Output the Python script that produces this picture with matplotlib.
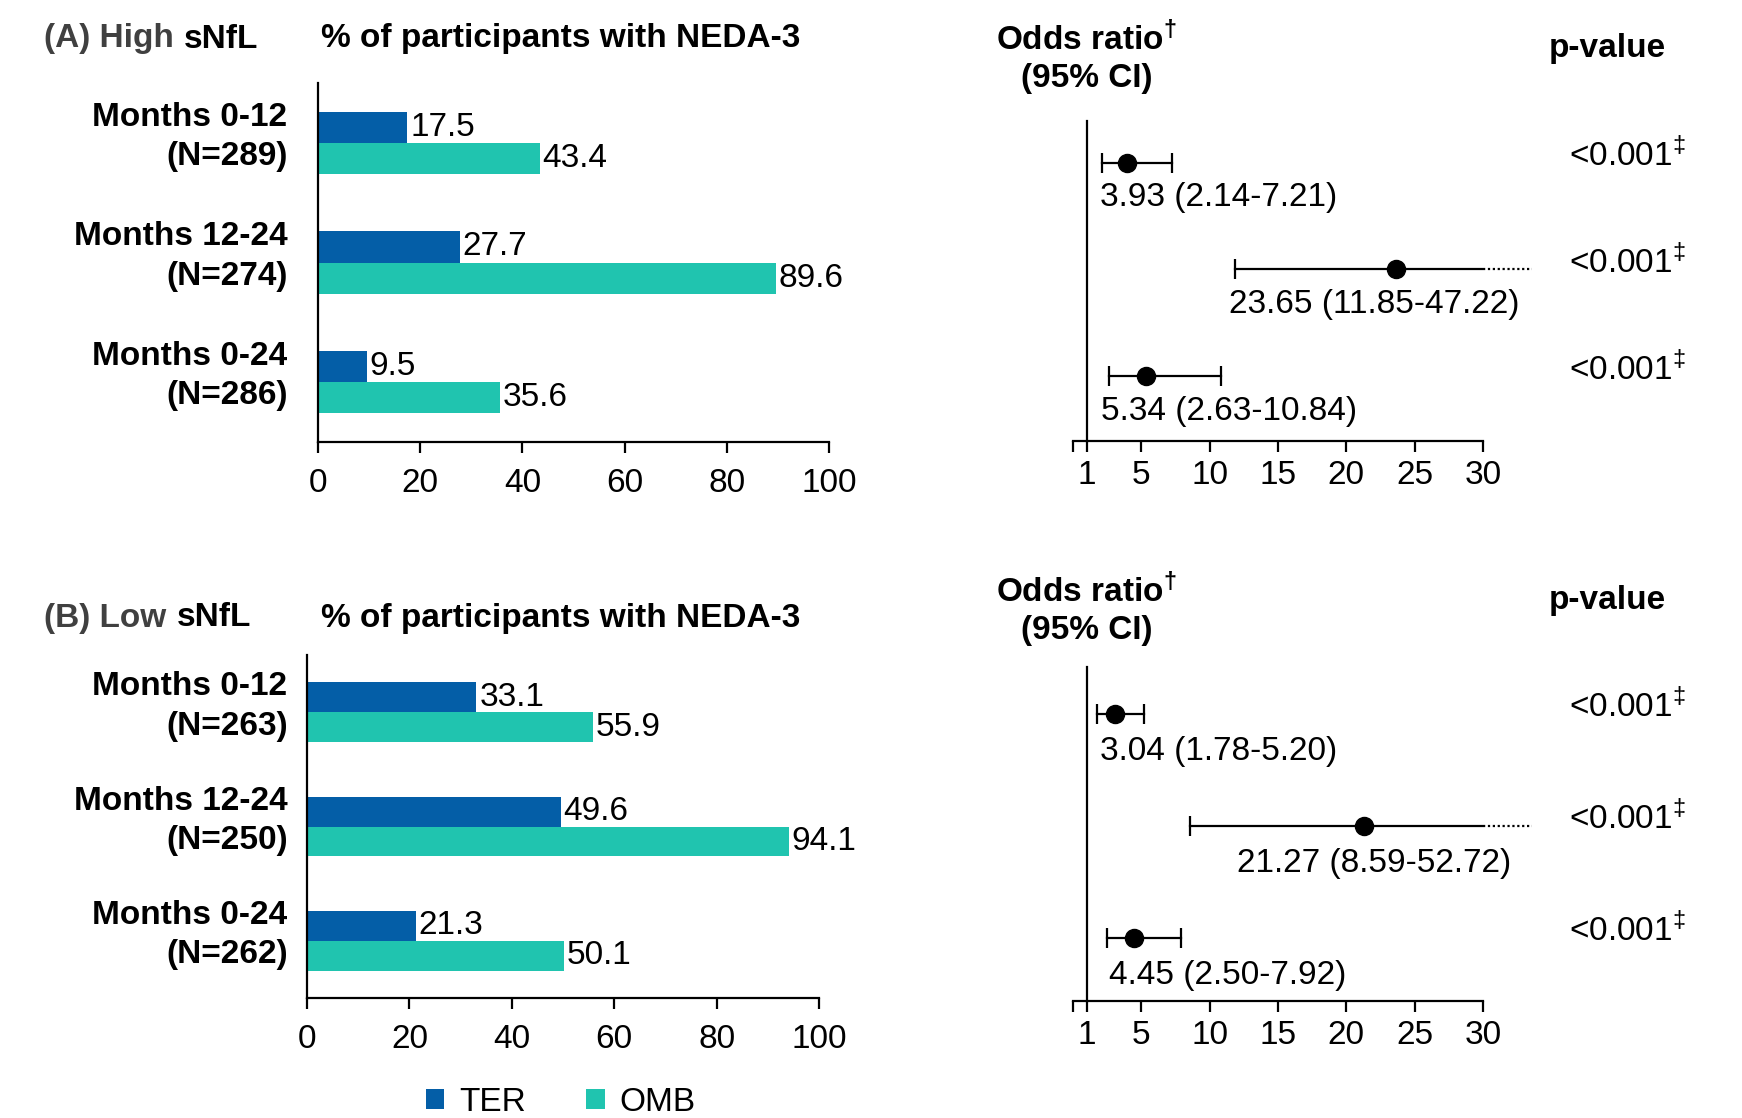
import numpy as np
import matplotlib
matplotlib.use("Agg")
import matplotlib.pyplot as plt
import matplotlib.transforms as mtransforms

plt.rcParams['font.family'] = ['Liberation Sans', 'DejaVu Sans']
plt.rcParams['mathtext.fontset'] = 'custom'
plt.rcParams['mathtext.rm'] = 'Liberation Sans'
plt.rcParams['mathtext.it'] = 'Liberation Sans'
plt.rcParams['mathtext.bf'] = 'Liberation Sans:bold'
plt.rcParams['mathtext.default'] = 'regular'

# time windows and group sizes
periods = ['Months 0-12', 'Months 12-24', 'Months 0-24']
n_high = [289, 274, 286]
n_low = [263, 250, 262]

# % of participants with NEDA-3
ter_high = [17.5, 27.7, 9.5]
omb_high = [43.4, 89.6, 35.6]
ter_low = [33.1, 49.6, 21.3]
omb_low = [55.9, 94.1, 50.1]

# odds ratio (95% CI)
or_high = [3.93, 23.65, 5.34]
lo_high = [2.14, 11.85, 2.63]
hi_high = [7.21, 47.22, 10.84]
or_low = [3.04, 21.27, 4.45]
lo_low = [1.78, 8.59, 2.50]
hi_low = [5.20, 52.72, 7.92]

p_high = ['<0.001', '<0.001', '<0.001']
p_low = ['<0.001', '<0.001', '<0.001']

TER_C = '#045EA7'
OMB_C = '#20C4AF'
GREY = '#404040'
FS = 24

W, H = 1742, 1118


def box(x0, y0, x1, y1):
    # pixel box -> figure fraction rect
    return [x0 / W, 1 - y1 / H, (x1 - x0) / W, (y1 - y0) / H]


def draw_bars(ax, ter, omb, ns, pad):
    y = np.arange(len(periods))
    h = 0.26
    b1 = ax.barh(y - h / 2, ter, height=h, color=TER_C)
    b2 = ax.barh(y + h / 2, omb, height=h, color=OMB_C)
    ax.bar_label(b1, labels=[f'{v:.1f}' for v in ter], padding=2, fontsize=FS)
    ax.bar_label(b2, labels=[f'{v:.1f}' for v in omb], padding=2, fontsize=FS)
    ax.set_xlim(0, 100)
    ax.set_ylim(2.5, -0.5)
    ax.set_xticks(range(0, 101, 20))
    ax.set_yticks([])
    # row labels to the left of the axis, two lines each
    shift = mtransforms.ScaledTranslation(-pad / 72, 0, ax.figure.dpi_scale_trans)
    trans = ax.get_yaxis_transform() + shift
    for yi, p, n in zip(y, periods, ns):
        ax.text(0, yi - 0.05, f'{p}\n(N={n})', transform=trans, ha='right',
                va='center', fontsize=FS, fontweight='bold', linespacing=1.35)
    ax.tick_params(axis='x', length=8, width=1.6, pad=11, labelsize=FS)
    for s in ['top', 'right']:
        ax.spines[s].set_visible(False)
    for s in ['left', 'bottom']:
        ax.spines[s].set_linewidth(1.6)
    return b1, b2


def draw_forest(ax, est, lo, hi, label_x, ylim):
    y = np.arange(len(est))
    xmax = 30
    dot_end = 33.6
    for yi, e, l, u, lx in zip(y, est, lo, hi, label_x):
        ax.plot([l, min(u, xmax)], [yi, yi], color='k', lw=1.6)
        ax.plot([l], [yi], marker='|', ms=14, mew=1.6, color='k')
        if u > xmax:
            ax.plot([xmax, dot_end], [yi, yi], color='k', lw=1.6,
                    ls=(0, (1, 1.2)), clip_on=False)
        else:
            ax.plot([u], [yi], marker='|', ms=14, mew=1.6, color='k')
        ax.plot([e], [yi], 'o', ms=13, color='k')
        ax.text(lx, yi + 0.33, f'{e:.2f} ({l:.2f}-{u:.2f})', fontsize=FS,
                ha='left', va='center')
    ax.set_xlim(0, xmax)
    ax.set_ylim(*ylim)
    ticks = [0, 1, 5, 10, 15, 20, 25, 30]
    ax.set_xticks(ticks)
    ax.set_xticklabels(['' if t == 0 else str(t) for t in ticks])
    ax.spines['left'].set_position(('data', 1))
    ax.set_yticks([])
    for s in ['top', 'right']:
        ax.spines[s].set_visible(False)
    for s in ['left', 'bottom']:
        ax.spines[s].set_linewidth(1.6)
    ax.tick_params(axis='x', length=8, width=1.6, pad=6, labelsize=FS)


def draw_pvalues(fig, ax, pvals):
    trans = mtransforms.blended_transform_factory(fig.transFigure, ax.transData)
    for yi, p in enumerate(pvals):
        ax.text(1569 / W, yi - 0.07, p + r'$^{‡}$', transform=trans,
                fontsize=FS, ha='left', va='center', clip_on=False)


def headers(fig, letter, level, y_title, y_or, y_ci, y_p, gap_x):
    fig.text(44 / W, 1 - y_title / H, f'({letter}) {level}', fontsize=FS,
             fontweight='bold', color=GREY, va='center')
    fig.text(gap_x / W, 1 - y_title / H, 'sNfL', fontsize=FS,
             fontweight='bold', color='k', va='center')
    fig.text(321 / W, 1 - y_title / H, '% of participants with NEDA-3',
             fontsize=FS, fontweight='bold', va='center')
    fig.text(1086 / W, 1 - y_or / H, r'Odds ratio$^{†}$', fontsize=FS,
             fontweight='bold', ha='center', va='center')
    fig.text(1087 / W, 1 - y_ci / H, '(95% CI)', fontsize=FS,
             fontweight='bold', ha='center', va='center')
    fig.text(1607 / W, 1 - y_p / H, 'p-value', fontsize=FS,
             fontweight='bold', ha='center', va='center')


fig = plt.figure(figsize=(W / 100, H / 100), dpi=100)

ax_a = fig.add_axes(box(318, 83, 829, 442))
ax_b = fig.add_axes(box(307, 655, 819, 998))
fa = fig.add_axes(box(1073, 121, 1483, 441))
fb = fig.add_axes(box(1073, 667, 1483, 1001))

h1, h2 = draw_bars(ax_a, ter_high, omb_high, n_high, pad=22)
draw_bars(ax_b, ter_low, omb_low, n_low, pad=14)

draw_forest(fa, or_high, lo_high, hi_high, [2.0, 11.4, 2.05], (2.61, -0.39))
draw_forest(fb, or_low, lo_low, hi_low, [2.0, 12.0, 2.6], (2.56, -0.42))
draw_pvalues(fig, fa, p_high)
draw_pvalues(fig, fb, p_low)

headers(fig, 'A', 'High', 39, 39, 78, 48, 184)
headers(fig, 'B', 'Low', 618, 591, 631, 600, 177)

fig.legend(handles=[h1, h2], labels=['TER', 'OMB'], ncol=2, frameon=False,
           loc='center', bbox_to_anchor=(0.322, 0.014), fontsize=FS,
           handlelength=0.55, handleheight=0.55, handletextpad=0.45,
           columnspacing=1.8)

fig.savefig('out.png', dpi=100)
